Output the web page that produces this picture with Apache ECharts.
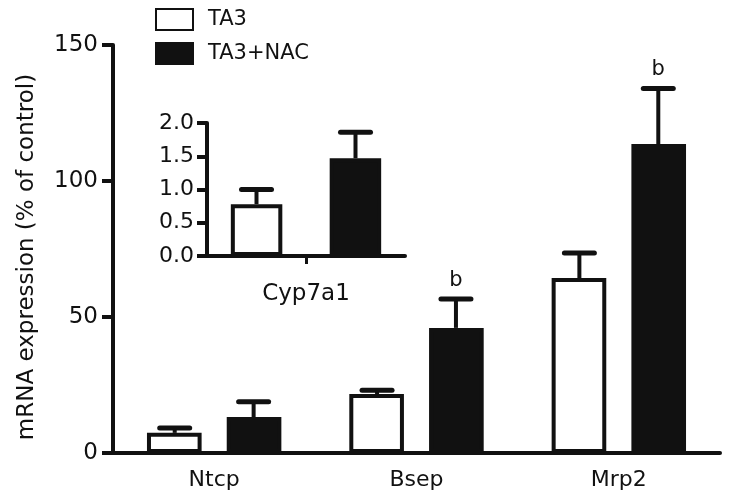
<!DOCTYPE html>
<html>
<head>
<meta charset="utf-8">
<script src="https://cdn.jsdelivr.net/npm/echarts@6/dist/echarts.min.js"></script>
<style>
  html, body { margin: 0; padding: 0; background: #fff; }
  #chart { width: 729px; height: 500px; }
</style>
</head>
<body>
<div id="chart"></div>
<script>
  // main panel
  var categories = ['Ntcp', 'Bsep', 'Mrp2'];
  var ta3 = [7.4, 21.7, 64.3];
  var ta3Err = [1.8, 1.4, 9.2];
  var nac = [13.2, 46, 113.6];
  var nacErr = [5.6, 10.6, 20.4];
  var nacSig = ['', 'b', 'b'];
  var mainTicks = [0, 50, 100, 150];

  // inset panel
  var insetCategories = ['Cyp7a1'];
  var insetTa3 = [0.78];
  var insetTa3Err = [0.22];
  var insetNac = [1.47];
  var insetNacErr = [0.39];
  var insetTicks = [0, 0.5, 1, 1.5, 2];

  var font = 'DejaVu Sans';
  var ink = '#111';

  function errData(vals, errs, sig) {
    return vals.map(function (v, i) {
      return [i, v, errs[i], sig ? sig[i] : ''];
    });
  }

  // draws an upper error bar on top of a grouped bar
  function errorBar(shift) {
    return function (params, api) {
      var idx = api.value(0);
      var base = api.coord([idx, api.value(1)]);
      var top = api.coord([idx, api.value(1) + api.value(2)]);
      var band = api.size([1, 0])[0];
      var cx = base[0] + band * shift;
      var children = [
        { type: 'line', shape: { x1: cx, y1: base[1], x2: cx, y2: top[1] },
          style: { stroke: ink, lineWidth: 4 } },
        { type: 'line', shape: { x1: cx - 15, y1: top[1], x2: cx + 15, y2: top[1] },
          style: { stroke: ink, lineWidth: 5, lineCap: 'round' } }
      ];
      var s = api.value(3);
      if (s) {
        children.push({ type: 'text', x: cx, y: top[1] - 8,
          style: { text: s, fill: ink, font: '21px ' + font, align: 'center', verticalAlign: 'bottom' } });
      }
      return { type: 'group', children: children };
    };
  }

  var chart = echarts.init(document.getElementById('chart'));

  var whiteStyle = { color: '#fff', borderColor: ink, borderWidth: 4 };
  var blackStyle = { color: ink, borderColor: ink, borderWidth: 4 };

  chart.setOption({
    animation: false,
    legend: {
      data: ['TA3', 'TA3+NAC'],
      orient: 'vertical',
      left: 150,
      top: 3,
      itemWidth: 37,
      itemHeight: 21,
      itemGap: 11,
      icon: 'rect',
      textStyle: { fontFamily: font, fontSize: 21, color: ink, padding: [0, 0, 0, 10] }
    },
    grid: [
      { left: 113, right: 9, top: 45, bottom: 47, containLabel: false, outerBoundsMode: 'none' },
      { left: 207, right: 324, top: 123, bottom: 244, containLabel: false, outerBoundsMode: 'none' }
    ],
    xAxis: [
      {
        type: 'category', gridIndex: 0, data: categories,
        axisLine: { lineStyle: { color: ink, width: 4 } },
        axisTick: { show: false },
        axisLabel: { fontFamily: font, fontSize: 22, color: ink, margin: 16 }
      },
      {
        type: 'category', gridIndex: 1, data: insetCategories,
        axisLine: { lineStyle: { color: ink, width: 4 } },
        axisTick: { show: true, alignWithLabel: true, length: 8, lineStyle: { width: 3 } },
        axisLabel: { fontFamily: font, fontSize: 23, color: ink, margin: 27 }
      }
    ],
    yAxis: [
      {
        type: 'value', gridIndex: 0, min: 0, max: 150, interval: 50,
        name: 'mRNA expression (% of control)',
        nameLocation: 'middle', nameGap: 74,
        nameTextStyle: { fontFamily: font, fontSize: 23, color: ink, padding: [0, 16, 0, 0] },
        axisLine: { show: true, lineStyle: { color: ink, width: 4 } },
        axisTick: { show: true, length: 11, lineStyle: { width: 4 } },
        splitLine: { show: false },
        axisLabel: {
          fontFamily: font, fontSize: 23, color: ink, margin: 15,
          customValues: mainTicks
        }
      },
      {
        type: 'value', gridIndex: 1, min: 0, max: 2, interval: 0.5,
        axisLine: { show: true, lineStyle: { color: ink, width: 4 } },
        axisTick: { show: true, length: 10, lineStyle: { width: 4 } },
        splitLine: { show: false },
        axisLabel: {
          fontFamily: font, fontSize: 22, color: ink, margin: 13,
          formatter: function (v) { return v.toFixed(1); }
        }
      }
    ],
    series: [
      { name: 'TA3', type: 'bar', xAxisIndex: 0, yAxisIndex: 0, data: ta3,
        barWidth: '27%', barGap: '46%', itemStyle: whiteStyle },
      { name: 'TA3+NAC', type: 'bar', xAxisIndex: 0, yAxisIndex: 0, data: nac,
        barWidth: '27%', barGap: '46%', itemStyle: blackStyle },
      { type: 'custom', xAxisIndex: 0, yAxisIndex: 0, z: 1,
        renderItem: errorBar(-0.195), data: errData(ta3, ta3Err) },
      { type: 'custom', xAxisIndex: 0, yAxisIndex: 0, z: 1,
        renderItem: errorBar(0.195), data: errData(nac, nacErr, nacSig) },

      { name: 'TA3', type: 'bar', xAxisIndex: 1, yAxisIndex: 1, data: insetTa3,
        barWidth: '26%', barGap: '92%', itemStyle: whiteStyle },
      { name: 'TA3+NAC', type: 'bar', xAxisIndex: 1, yAxisIndex: 1, data: insetNac,
        barWidth: '26%', barGap: '92%', itemStyle: blackStyle },
      { type: 'custom', xAxisIndex: 1, yAxisIndex: 1, z: 1,
        renderItem: errorBar(-0.25), data: errData(insetTa3, insetTa3Err) },
      { type: 'custom', xAxisIndex: 1, yAxisIndex: 1, z: 1,
        renderItem: errorBar(0.25), data: errData(insetNac, insetNacErr) }
    ]
  });
</script>
</body>
</html>
